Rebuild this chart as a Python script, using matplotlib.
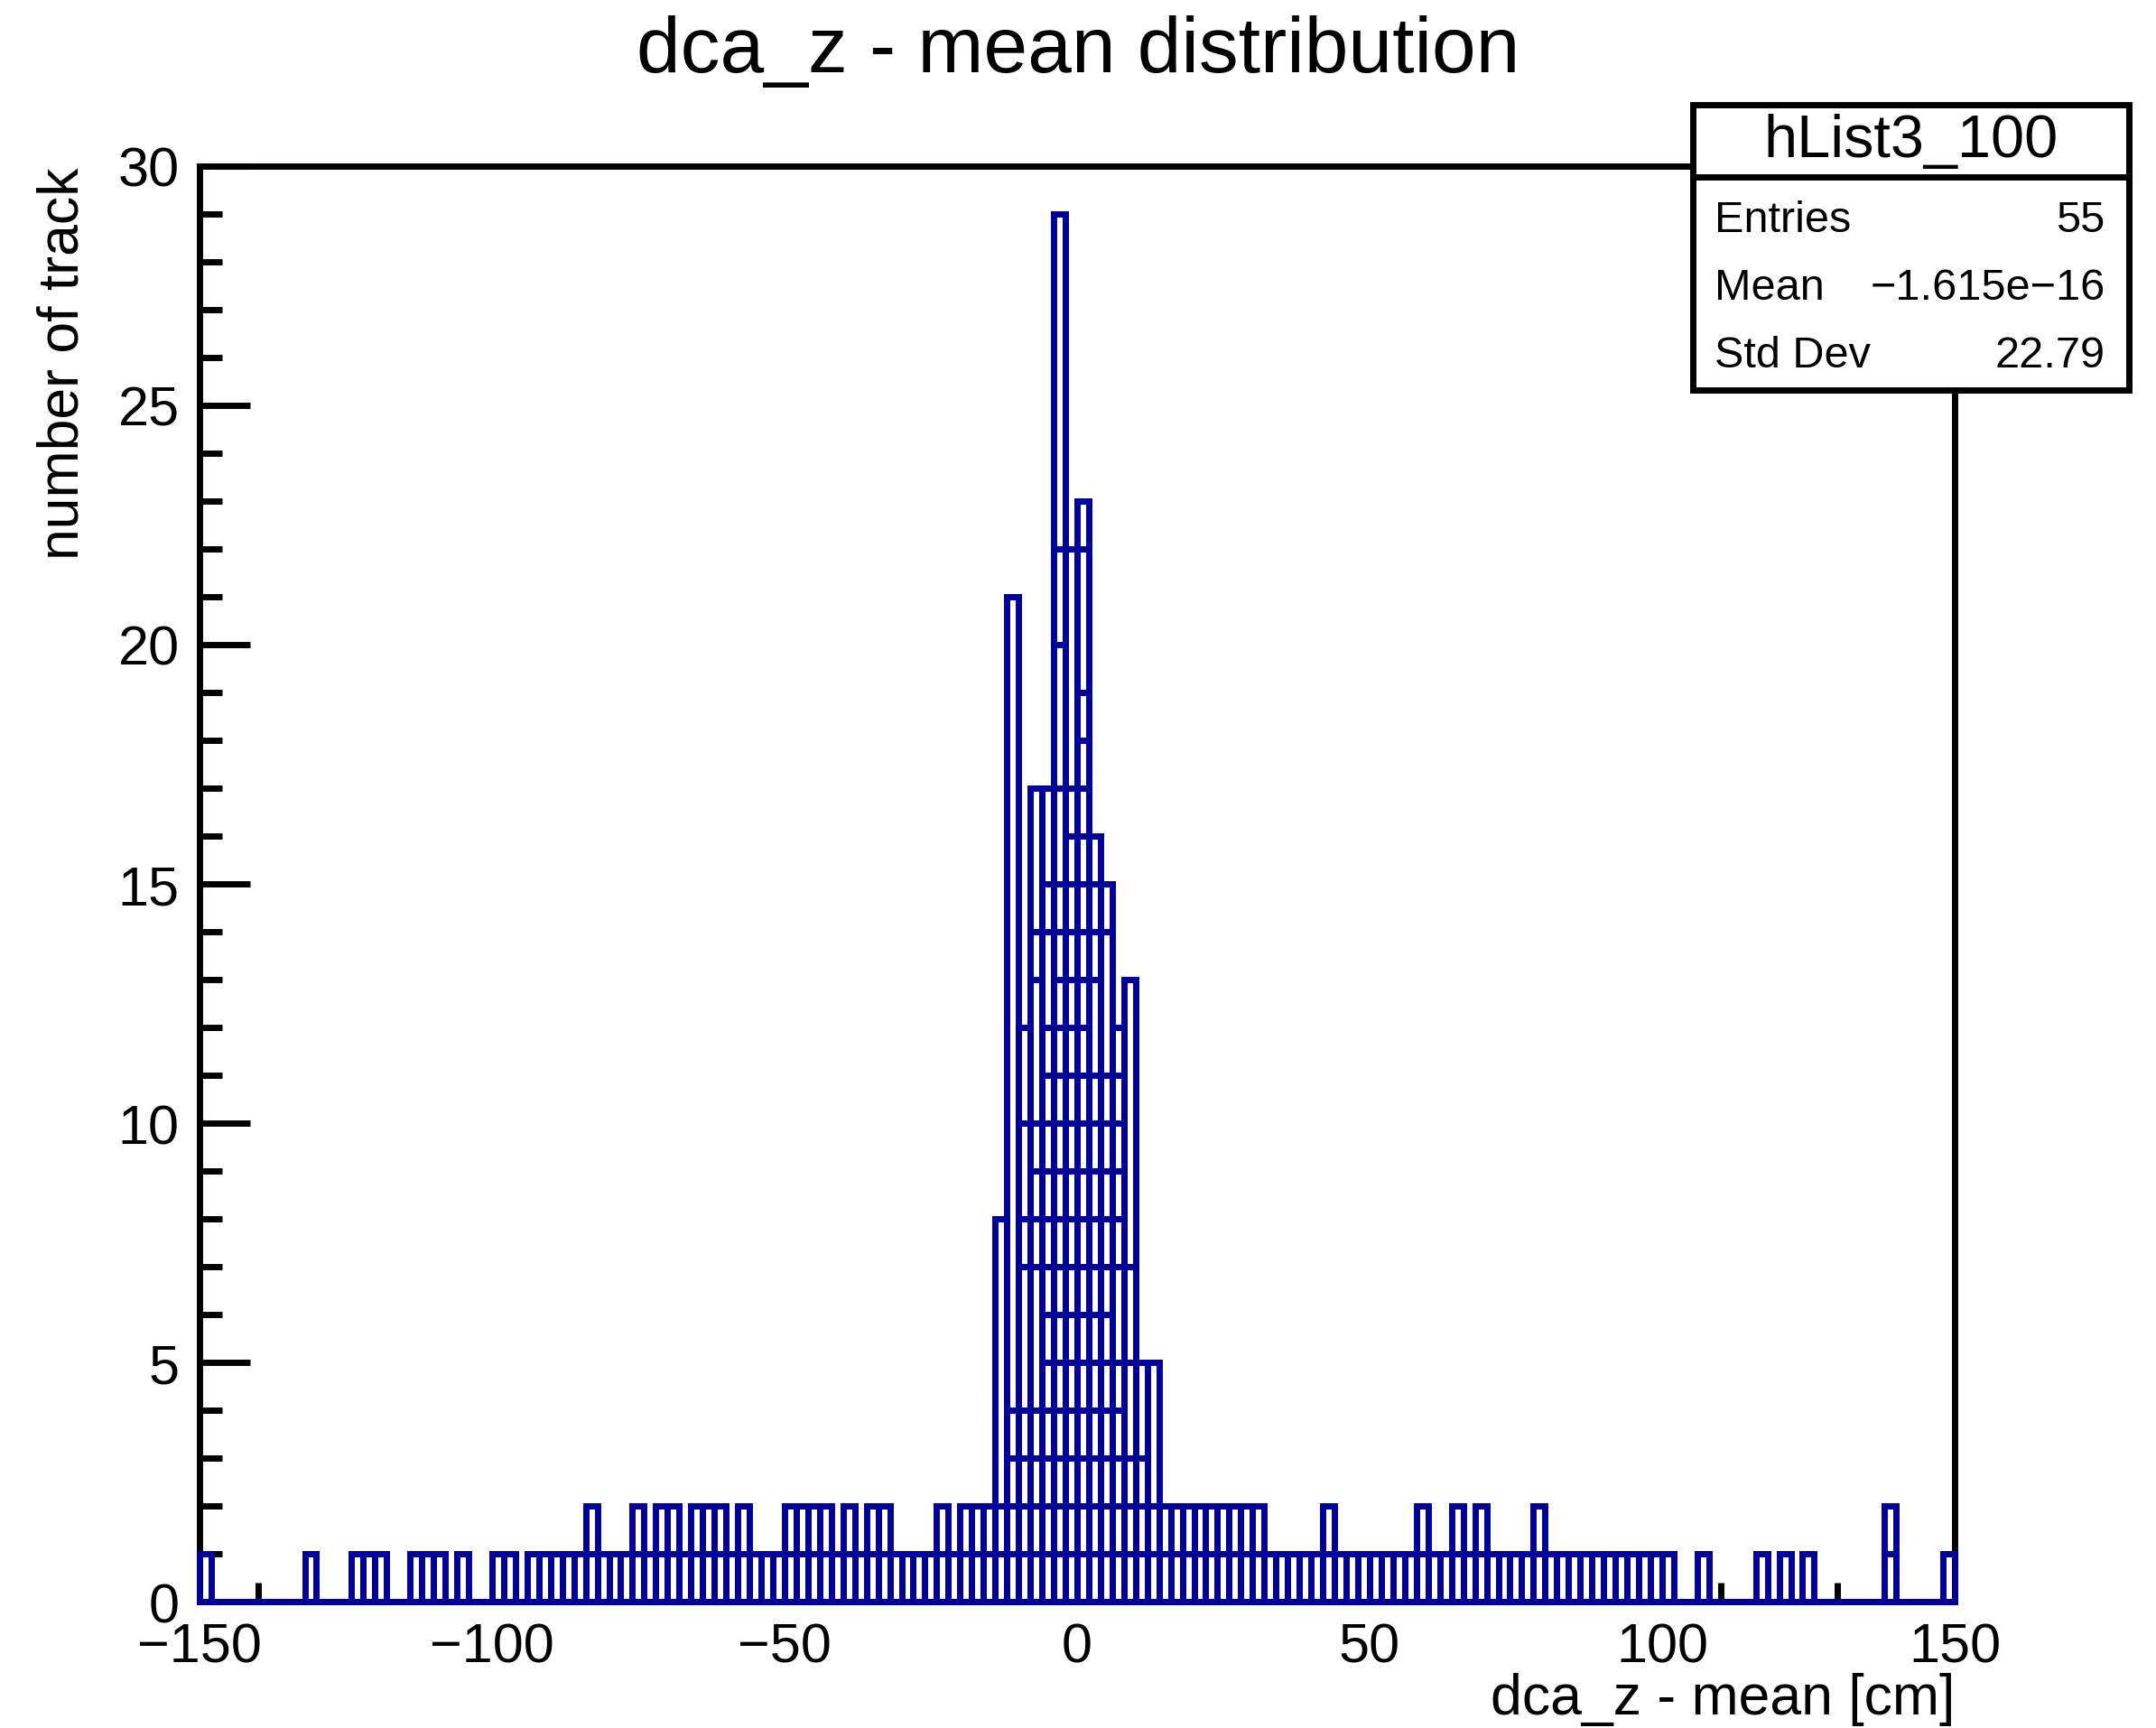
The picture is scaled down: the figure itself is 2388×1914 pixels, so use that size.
import numpy as np
import matplotlib.pyplot as plt
from matplotlib.patches import Rectangle
from matplotlib.lines import Line2D
from matplotlib.ticker import MultipleLocator

plt.rcParams['font.family'] = ['Liberation Sans', 'DejaVu Sans']

# histogramme : 150 bins de 2 cm entre -150 et 150
x_min, x_max, n_bins = -150, 150, 150

counts = [
    1, 0, 0, 0, 0, 0, 0, 0, 0, 1,
    0, 0, 0, 1, 1, 1, 0, 0, 1, 1,
    1, 0, 1, 0, 0, 1, 1, 0, 1, 1,
    1, 1, 1, 2, 1, 1, 1, 2, 1, 2,
    2, 1, 2, 2, 2, 1, 2, 1, 1, 1,
    2, 2, 2, 2, 1, 2, 1, 2, 2, 1,
    1, 1, 1, 2, 1, 2, 2, 2, 8, 21,
    12, 17, 17, 29, 22, 23, 16, 15, 12, 13,
    5, 5, 2, 2, 2, 2, 2, 2, 2, 2,
    2, 1, 1, 1, 1, 1, 2, 1, 1, 1,
    1, 1, 1, 1, 2, 1, 1, 2, 1, 2,
    1, 1, 1, 1, 2, 1, 1, 1, 1, 1,
    1, 1, 1, 1, 1, 1, 0, 0, 1, 0,
    0, 0, 0, 1, 0, 1, 0, 1, 0, 0,
    0, 0, 0, 0, 2, 0, 0, 0, 0, 1,
]

# niveaux des traits horizontaux dans les bins centraux (histos superposes)
peak_bins = [68, 69, 70, 71, 72, 73, 74, 75, 76, 77, 78, 79, 80, 81]
peak_levels = [
    [1, 2, 8],
    [1, 2, 3, 4, 21],
    [1, 2, 3, 4, 7, 8, 10, 12],
    [1, 2, 3, 4, 7, 8, 9, 10, 13, 14, 17],
    [1, 2, 3, 4, 5, 6, 7, 8, 9, 10, 11, 12, 14, 15, 17],
    [1, 2, 3, 4, 5, 6, 7, 8, 9, 10, 11, 12, 13, 14, 15, 17, 20, 22, 29],
    [1, 2, 3, 4, 5, 6, 7, 8, 9, 10, 11, 12, 13, 14, 15, 16, 17, 22],
    [1, 2, 3, 4, 5, 6, 7, 8, 9, 10, 11, 12, 13, 14, 15, 16, 17, 18, 19, 22, 23],
    [1, 2, 3, 4, 5, 6, 7, 8, 9, 10, 11, 13, 14, 15, 16],
    [1, 2, 3, 4, 5, 6, 7, 8, 9, 10, 11, 14, 15],
    [1, 2, 3, 4, 5, 7, 8, 9, 10, 11, 12],
    [1, 2, 3, 5, 7, 13],
    [1, 2, 3, 5],
    [1, 2, 5],
]

stat_labels = ["Entries", "Mean", "Std Dev"]
stat_values = ["55", "\u22121.615e\u221216", "22.79"]

blue = '#000099'
lw = 5.0

fig = plt.figure(figsize=(23.88, 19.15), dpi=100)
ax = fig.add_axes([0.0925, 0.0731, 0.9066 - 0.0925, 0.9034 - 0.0731])

edges = np.linspace(x_min, x_max, n_bins + 1)
vx, vtop, hy, hx0, hx1 = [], [], [], [], []
for i, c in enumerate(counts):
    if c == 0:
        continue
    if i in peak_bins:
        levels = peak_levels[peak_bins.index(i)]
    else:
        levels = list(range(1, c + 1))
    vx += [edges[i], edges[i + 1]]
    vtop += [c, c]
    for lv in levels:
        hy.append(lv)
        hx0.append(edges[i])
        hx1.append(edges[i + 1])

lc1 = ax.vlines(vx, 0, vtop, colors=blue, linewidth=lw, zorder=3, clip_on=False)
lc2 = ax.hlines(hy, hx0, hx1, colors=blue, linewidth=lw, zorder=3, clip_on=False)
lc3 = ax.hlines([0], [x_min], [x_max], colors=blue, linewidth=lw, zorder=3, clip_on=False)
for lc in (lc1, lc2, lc3):
    lc.set_capstyle('projecting')

ax.set_xlim(x_min, x_max)
ax.set_ylim(0, 30)
for s in ax.spines.values():
    s.set_linewidth(lw)
ax.xaxis.set_major_locator(MultipleLocator(50))
ax.xaxis.set_minor_locator(MultipleLocator(10))
ax.yaxis.set_major_locator(MultipleLocator(5))
ax.yaxis.set_minor_locator(MultipleLocator(1))
ax.tick_params(axis='both', which='both', direction='in', width=lw,
               top=False, right=False)
ax.tick_params(axis='y', which='major', length=40, pad=16, labelsize=44)
ax.tick_params(axis='y', which='minor', length=18)
ax.tick_params(axis='x', which='major', length=32, pad=16, labelsize=44)
ax.tick_params(axis='x', which='minor', length=15)

fig.text(0.5, 0.958, "dca_z - mean distribution", ha='center', va='baseline', fontsize=63)
fig.text(0.9066, 0.0085, "dca_z - mean [cm]", ha='right', va='baseline', fontsize=45)
fig.text(0.0293, 0.9029, "number of track", ha='center', va='top', rotation=90, fontsize=45)

# boite de statistiques
box_x0, box_x1 = 0.7852, 0.9874
box_y0, box_y1, box_div = 0.7739, 0.9391, 0.8973
fig.patches.append(Rectangle((box_x0, box_y0), box_x1 - box_x0, box_y1 - box_y0,
                             transform=fig.transFigure, facecolor='white',
                             edgecolor='black', linewidth=lw, zorder=5))
fig.lines.append(Line2D([box_x0, box_x1], [box_div, box_div], transform=fig.transFigure,
                        color='black', linewidth=lw, zorder=6))
fig.text((box_x0 + box_x1) / 2, (box_div + box_y1) / 2, "hList3_100", ha='center',
         va='center', fontsize=48, zorder=7)
for lab, val, yy in zip(stat_labels, stat_values, [0.8660, 0.8268, 0.7876]):
    fig.text(0.7954, yy, lab, ha='left', va='baseline', fontsize=35, zorder=7)
    fig.text(0.9764, yy, val, ha='right', va='baseline', fontsize=35, zorder=7)

fig.savefig('out.png', dpi=100)
